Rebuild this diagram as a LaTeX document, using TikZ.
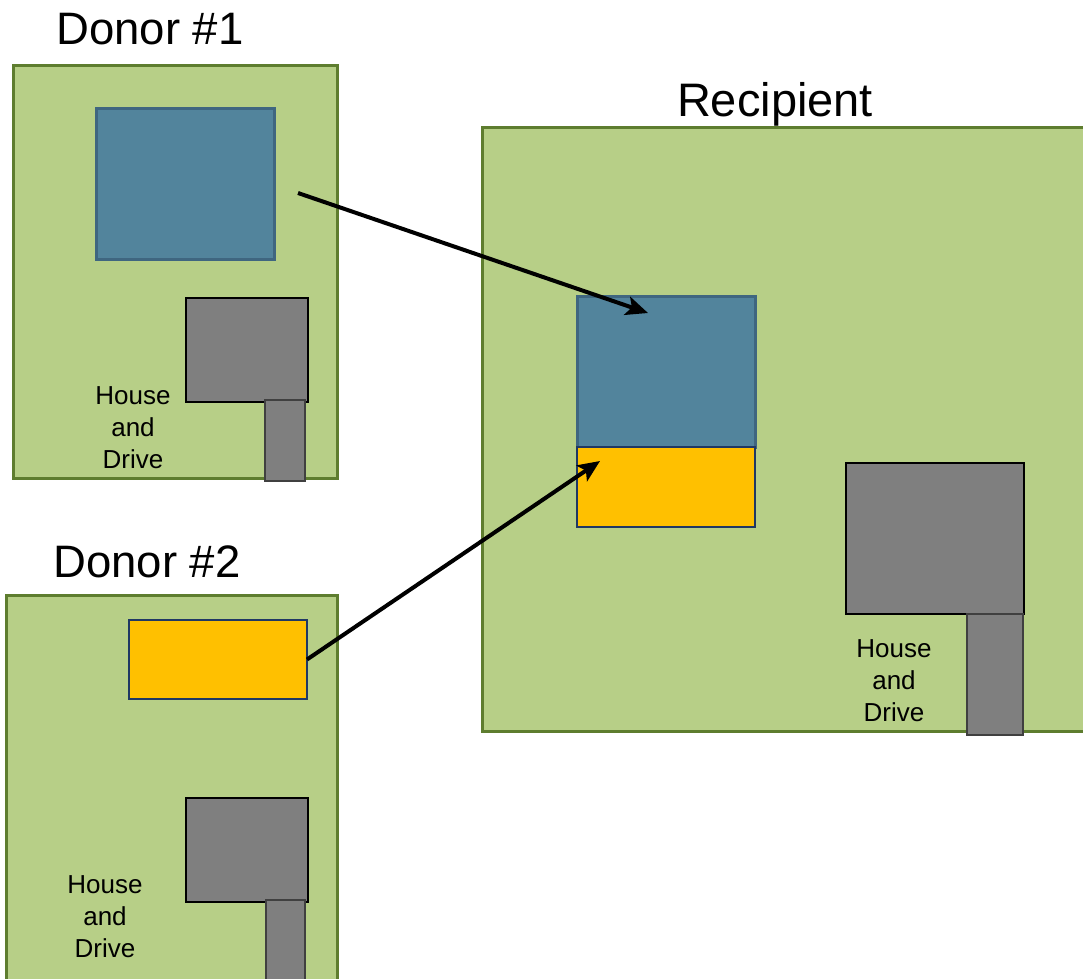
\documentclass[tikz,border=0pt]{standalone}
\usepackage{fontspec}
\setmainfont{Liberation Sans}
\usepackage{tikz}
\usetikzlibrary{arrows.meta}

\definecolor{lotgreen}{HTML}{B7CF87}
\definecolor{lotedge}{HTML}{5E7D2F}
\definecolor{poolblue}{HTML}{52849C}
\definecolor{pooledge}{HTML}{3F6680}
\definecolor{gardenyellow}{HTML}{FFC000}
\definecolor{gardenedge}{HTML}{1F3864}
\definecolor{housegray}{HTML}{7F7F7F}

\begin{document}
\begin{tikzpicture}[x=1pt,y=-1pt,
    box/.style={rectangle,inner sep=0pt,outer sep=0pt,anchor=north west},
    lot/.style={box,fill=lotgreen,draw=lotedge,line width=3pt},
    pool/.style={box,fill=poolblue,draw=pooledge,line width=3pt},
    garden/.style={box,fill=gardenyellow,draw=gardenedge,line width=2.5pt},
    house/.style={box,fill=housegray,draw=black,line width=2.5pt},
    drive/.style={box,fill=housegray,draw=black!75,line width=1.2pt},
    title/.style={font=\fontsize{45.5}{54}\selectfont,anchor=base},
    label/.style={font=\fontsize{26}{32}\selectfont,align=center,anchor=base,inner sep=0pt},
    move/.style={line width=4pt,-{Stealth[length=22pt,width=19pt,inset=5pt]}}]
  \useasboundingbox (0,0) rectangle (1083,978);
  \clip (0,0) rectangle (1083,978);

  \node[lot,minimum width=324pt,minimum height=413pt] (d1lot) at (13,65) {};
  \node[pool,minimum width=178pt,minimum height=151pt] (d1pool) at (96,108) {};
  \node[house,minimum width=122pt,minimum height=104pt] (d1house) at (186,298) {};
  \node[drive,minimum width=40pt,minimum height=81pt] (d1drive) at (265,400) {};
  \node[label] (d1text) at (133,468) {House\\and\\Drive};
  \node[title] (d1title) at (150,44) {Donor \#1};

  \node[lot,minimum width=331pt,minimum height=400pt] (d2lot) at (6,595) {};
  \node[garden,minimum width=178pt,minimum height=79pt] (d2garden) at (129,620) {};
  \node[house,minimum width=122pt,minimum height=104pt] (d2house) at (186,798) {};
  \node[drive,minimum width=39pt,minimum height=90pt] (d2drive) at (266,900) {};
  \node[label] (d2text) at (105,957) {House\\and\\Drive};
  \node[title] (d2title) at (147,577) {Donor \#2};

  \node[lot,minimum width=620pt,minimum height=604pt] (rlot) at (482,127) {};
  \node[pool,minimum width=178pt,minimum height=151pt] (rpool) at (577,296) {};
  \node[garden,minimum width=178pt,minimum height=80pt] (rgarden) at (577,447) {};
  \node[house,minimum width=178pt,minimum height=151pt] (rhouse) at (846,463) {};
  \node[drive,minimum width=56pt,minimum height=121pt] (rdrive) at (967,614) {};
  \node[label] (rtext) at (894,721) {House\\and\\Drive};
  \node[title,font=\fontsize{47}{56}\selectfont] (rtitle) at (775,116) {Recipient};

  \coordinate (poolstart) at (298,193);
  \coordinate (poolend) at (648,313);
  \coordinate (gardenend) at (600,461);
  \draw[move] (poolstart) -- (poolend);
  \draw[move] (d2garden.east) -- (gardenend);
\end{tikzpicture}
\end{document}
